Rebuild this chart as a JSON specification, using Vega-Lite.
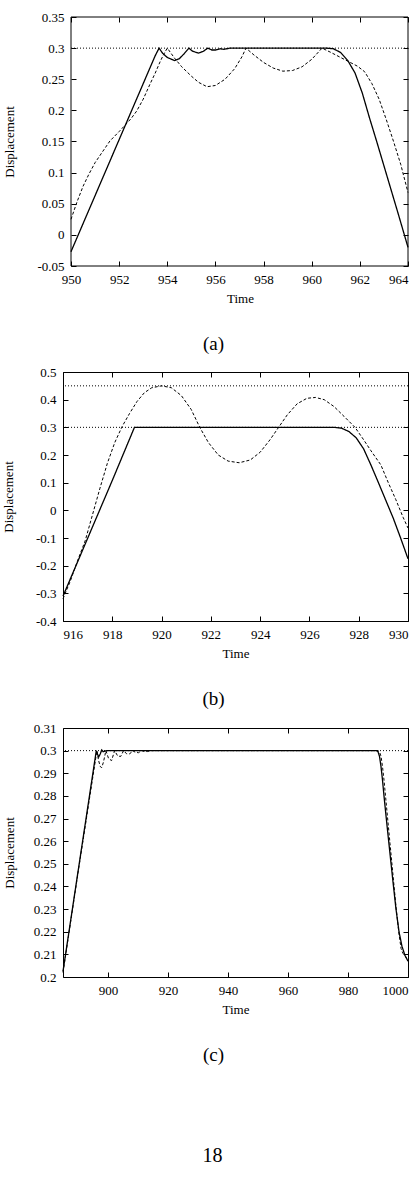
{
  "$schema": "https://vega.github.io/schema/vega-lite/v6.json",
  "padding": {"left": 1, "top": 11, "right": 0, "bottom": 0},
  "autosize": {"type": "pad"},
  "spacing": 11,
  "title": {"text": "18", "orient": "bottom", "anchor": "middle", "dx": 6, "offset": 80, "fontSize": 20, "fontWeight": "normal", "font": "Liberation Serif", "color": "black"},
  "config": {
    "view": {"stroke": "black", "strokeWidth": 1},
    "font": "Liberation Serif",
    "axis": {"grid": false, "domain": false, "tickSize": -5, "tickColor": "black", "tickWidth": 1, "labelPadding": 12, "labelFont": "Liberation Serif", "labelFontSize": 13, "labelColor": "black", "titleFont": "Liberation Serif", "titleFontSize": 13, "titleFontWeight": "normal", "titleColor": "black"},
    "axisX": {"titlePadding": 6},
    "title": {"fontWeight": "normal", "font": "Liberation Serif", "color": "black"}
  },
  "datasets": {
    "refA": [{"level": 0.3, "x0": 950, "x1": 964}],
    "frameAh": [{"x0": 950, "x1": 964, "y": -0.05}, {"x0": 950, "x1": 964, "y": 0.35}],
    "frameAv": [{"x": 950}, {"x": 964}],
    "refB": [{"level": 0.3}, {"level": 0.45}],
    "refC": [{"level": 0.3}],
    "a": [
      {"s": "solid", "t": 950, "d": -0.027}, {"s": "solid", "t": 950.5, "d": 0.018}, {"s": "solid", "t": 951, "d": 0.063}, {"s": "solid", "t": 951.5, "d": 0.108}, {"s": "solid", "t": 952, "d": 0.153}, {"s": "solid", "t": 952.5, "d": 0.198}, {"s": "solid", "t": 953, "d": 0.243}, {"s": "solid", "t": 953.5, "d": 0.288}, {"s": "solid", "t": 953.66, "d": 0.3}, {"s": "solid", "t": 953.8, "d": 0.292}, {"s": "solid", "t": 954, "d": 0.285}, {"s": "solid", "t": 954.3, "d": 0.28}, {"s": "solid", "t": 954.5, "d": 0.283}, {"s": "solid", "t": 954.7, "d": 0.291}, {"s": "solid", "t": 954.9, "d": 0.3}, {"s": "solid", "t": 955.05, "d": 0.295}, {"s": "solid", "t": 955.3, "d": 0.292}, {"s": "solid", "t": 955.5, "d": 0.295}, {"s": "solid", "t": 955.68, "d": 0.3}, {"s": "solid", "t": 955.85, "d": 0.297}, {"s": "solid", "t": 956, "d": 0.297}, {"s": "solid", "t": 956.2, "d": 0.299}, {"s": "solid", "t": 956.35, "d": 0.298}, {"s": "solid", "t": 956.6, "d": 0.3}, {"s": "solid", "t": 958, "d": 0.3}, {"s": "solid", "t": 960.6, "d": 0.3}, {"s": "solid", "t": 960.9, "d": 0.299}, {"s": "solid", "t": 961.2, "d": 0.293}, {"s": "solid", "t": 961.5, "d": 0.28}, {"s": "solid", "t": 961.8, "d": 0.26}, {"s": "solid", "t": 962.1, "d": 0.228}, {"s": "solid", "t": 962.4, "d": 0.188}, {"s": "solid", "t": 962.7, "d": 0.15}, {"s": "solid", "t": 963, "d": 0.111}, {"s": "solid", "t": 963.3, "d": 0.072}, {"s": "solid", "t": 963.6, "d": 0.033}, {"s": "solid", "t": 964, "d": -0.02},
      {"s": "dashed", "t": 950, "d": 0.025}, {"s": "dashed", "t": 950.25, "d": 0.053}, {"s": "dashed", "t": 950.5, "d": 0.078}, {"s": "dashed", "t": 950.75, "d": 0.098}, {"s": "dashed", "t": 951, "d": 0.116}, {"s": "dashed", "t": 951.3, "d": 0.133}, {"s": "dashed", "t": 951.62, "d": 0.151}, {"s": "dashed", "t": 952, "d": 0.166}, {"s": "dashed", "t": 952.24, "d": 0.176}, {"s": "dashed", "t": 952.5, "d": 0.187}, {"s": "dashed", "t": 952.73, "d": 0.199}, {"s": "dashed", "t": 953, "d": 0.218}, {"s": "dashed", "t": 953.28, "d": 0.242}, {"s": "dashed", "t": 953.5, "d": 0.26}, {"s": "dashed", "t": 953.7, "d": 0.278}, {"s": "dashed", "t": 953.85, "d": 0.29}, {"s": "dashed", "t": 954, "d": 0.3}, {"s": "dashed", "t": 954.3, "d": 0.284}, {"s": "dashed", "t": 954.6, "d": 0.27}, {"s": "dashed", "t": 955, "d": 0.255}, {"s": "dashed", "t": 955.3, "d": 0.245}, {"s": "dashed", "t": 955.65, "d": 0.238}, {"s": "dashed", "t": 956, "d": 0.24}, {"s": "dashed", "t": 956.4, "d": 0.25}, {"s": "dashed", "t": 956.8, "d": 0.267}, {"s": "dashed", "t": 957.1, "d": 0.286}, {"s": "dashed", "t": 957.27, "d": 0.3}, {"s": "dashed", "t": 957.6, "d": 0.289}, {"s": "dashed", "t": 958, "d": 0.277}, {"s": "dashed", "t": 958.4, "d": 0.268}, {"s": "dashed", "t": 958.8, "d": 0.263}, {"s": "dashed", "t": 959.2, "d": 0.264}, {"s": "dashed", "t": 959.6, "d": 0.27}, {"s": "dashed", "t": 960, "d": 0.282}, {"s": "dashed", "t": 960.43, "d": 0.3}, {"s": "dashed", "t": 960.8, "d": 0.293}, {"s": "dashed", "t": 961.2, "d": 0.285}, {"s": "dashed", "t": 961.5, "d": 0.279}, {"s": "dashed", "t": 961.9, "d": 0.271}, {"s": "dashed", "t": 962.2, "d": 0.262}, {"s": "dashed", "t": 962.5, "d": 0.243}, {"s": "dashed", "t": 962.8, "d": 0.218}, {"s": "dashed", "t": 963.1, "d": 0.185}, {"s": "dashed", "t": 963.4, "d": 0.15}, {"s": "dashed", "t": 963.7, "d": 0.113}, {"s": "dashed", "t": 964, "d": 0.068}
    ],
    "b": [
      {"s": "solid", "t": 916, "d": -0.31}, {"s": "solid", "t": 917, "d": -0.101}, {"s": "solid", "t": 918, "d": 0.108}, {"s": "solid", "t": 918.9, "d": 0.3}, {"s": "solid", "t": 919.5, "d": 0.3}, {"s": "solid", "t": 927, "d": 0.3}, {"s": "solid", "t": 927.3, "d": 0.297}, {"s": "solid", "t": 927.6, "d": 0.285}, {"s": "solid", "t": 927.9, "d": 0.262}, {"s": "solid", "t": 928.2, "d": 0.222}, {"s": "solid", "t": 928.5, "d": 0.163}, {"s": "solid", "t": 928.8, "d": 0.1}, {"s": "solid", "t": 929.1, "d": 0.036}, {"s": "solid", "t": 929.4, "d": -0.028}, {"s": "solid", "t": 929.7, "d": -0.1}, {"s": "solid", "t": 930, "d": -0.175},
      {"s": "dashed", "t": 916, "d": -0.32}, {"s": "dashed", "t": 916.3, "d": -0.255}, {"s": "dashed", "t": 916.6, "d": -0.18}, {"s": "dashed", "t": 916.9, "d": -0.11}, {"s": "dashed", "t": 917.2, "d": -0.015}, {"s": "dashed", "t": 917.5, "d": 0.08}, {"s": "dashed", "t": 917.8, "d": 0.17}, {"s": "dashed", "t": 918.1, "d": 0.245}, {"s": "dashed", "t": 918.4, "d": 0.303}, {"s": "dashed", "t": 918.7, "d": 0.35}, {"s": "dashed", "t": 919, "d": 0.393}, {"s": "dashed", "t": 919.3, "d": 0.425}, {"s": "dashed", "t": 919.6, "d": 0.443}, {"s": "dashed", "t": 920, "d": 0.45}, {"s": "dashed", "t": 920.4, "d": 0.443}, {"s": "dashed", "t": 920.8, "d": 0.415}, {"s": "dashed", "t": 921.2, "d": 0.365}, {"s": "dashed", "t": 921.55, "d": 0.3}, {"s": "dashed", "t": 921.9, "d": 0.245}, {"s": "dashed", "t": 922.3, "d": 0.2}, {"s": "dashed", "t": 922.7, "d": 0.178}, {"s": "dashed", "t": 923.15, "d": 0.172}, {"s": "dashed", "t": 923.6, "d": 0.182}, {"s": "dashed", "t": 924, "d": 0.21}, {"s": "dashed", "t": 924.4, "d": 0.255}, {"s": "dashed", "t": 924.75, "d": 0.3}, {"s": "dashed", "t": 925.1, "d": 0.345}, {"s": "dashed", "t": 925.5, "d": 0.385}, {"s": "dashed", "t": 925.9, "d": 0.405}, {"s": "dashed", "t": 926.25, "d": 0.408}, {"s": "dashed", "t": 926.6, "d": 0.4}, {"s": "dashed", "t": 927, "d": 0.375}, {"s": "dashed", "t": 927.4, "d": 0.34}, {"s": "dashed", "t": 927.85, "d": 0.3}, {"s": "dashed", "t": 928.2, "d": 0.255}, {"s": "dashed", "t": 928.5, "d": 0.215}, {"s": "dashed", "t": 928.9, "d": 0.164}, {"s": "dashed", "t": 929.2, "d": 0.1}, {"s": "dashed", "t": 929.5, "d": 0.04}, {"s": "dashed", "t": 929.8, "d": -0.025}, {"s": "dashed", "t": 930, "d": -0.064}
    ],
    "c": [
      {"s": "solid", "t": 885, "d": 0.2025}, {"s": "solid", "t": 890, "d": 0.2465}, {"s": "solid", "t": 896.1, "d": 0.3}, {"s": "solid", "t": 896.5, "d": 0.2985}, {"s": "solid", "t": 896.9, "d": 0.2972}, {"s": "solid", "t": 897.4, "d": 0.2985}, {"s": "solid", "t": 897.9, "d": 0.3003}, {"s": "solid", "t": 898.4, "d": 0.2995}, {"s": "solid", "t": 899, "d": 0.2998}, {"s": "solid", "t": 899.6, "d": 0.3}, {"s": "solid", "t": 940, "d": 0.3}, {"s": "solid", "t": 989.5, "d": 0.3}, {"s": "solid", "t": 990, "d": 0.2995}, {"s": "solid", "t": 990.5, "d": 0.2975}, {"s": "solid", "t": 991, "d": 0.293}, {"s": "solid", "t": 991.5, "d": 0.287}, {"s": "solid", "t": 992, "d": 0.28}, {"s": "solid", "t": 993, "d": 0.267}, {"s": "solid", "t": 994, "d": 0.2545}, {"s": "solid", "t": 995, "d": 0.242}, {"s": "solid", "t": 996, "d": 0.23}, {"s": "solid", "t": 997, "d": 0.22}, {"s": "solid", "t": 998, "d": 0.2135}, {"s": "solid", "t": 999, "d": 0.2095}, {"s": "solid", "t": 1000, "d": 0.207},
      {"s": "dashed", "t": 885, "d": 0.202}, {"s": "dashed", "t": 890, "d": 0.246}, {"s": "dashed", "t": 896.3, "d": 0.3}, {"s": "dashed", "t": 896.8, "d": 0.296}, {"s": "dashed", "t": 897.4, "d": 0.293}, {"s": "dashed", "t": 897.9, "d": 0.2925}, {"s": "dashed", "t": 898.5, "d": 0.295}, {"s": "dashed", "t": 899.3, "d": 0.3}, {"s": "dashed", "t": 900.2, "d": 0.2965}, {"s": "dashed", "t": 901.2, "d": 0.2956}, {"s": "dashed", "t": 902.2, "d": 0.3}, {"s": "dashed", "t": 903.2, "d": 0.2977}, {"s": "dashed", "t": 904.2, "d": 0.2974}, {"s": "dashed", "t": 905.2, "d": 0.3}, {"s": "dashed", "t": 906.2, "d": 0.2986}, {"s": "dashed", "t": 907.2, "d": 0.2985}, {"s": "dashed", "t": 908.2, "d": 0.3}, {"s": "dashed", "t": 909.2, "d": 0.2992}, {"s": "dashed", "t": 910.2, "d": 0.2991}, {"s": "dashed", "t": 911.2, "d": 0.3}, {"s": "dashed", "t": 912.2, "d": 0.2996}, {"s": "dashed", "t": 913.2, "d": 0.2996}, {"s": "dashed", "t": 914.2, "d": 0.3}, {"s": "dashed", "t": 950, "d": 0.3}, {"s": "dashed", "t": 990, "d": 0.3}, {"s": "dashed", "t": 990.5, "d": 0.2995}, {"s": "dashed", "t": 991, "d": 0.2975}, {"s": "dashed", "t": 991.5, "d": 0.293}, {"s": "dashed", "t": 992, "d": 0.287}, {"s": "dashed", "t": 993, "d": 0.273}, {"s": "dashed", "t": 994, "d": 0.259}, {"s": "dashed", "t": 995, "d": 0.245}, {"s": "dashed", "t": 996, "d": 0.231}, {"s": "dashed", "t": 997, "d": 0.219}, {"s": "dashed", "t": 997.7, "d": 0.2125}, {"s": "dashed", "t": 998.3, "d": 0.2105}, {"s": "dashed", "t": 999, "d": 0.2095}, {"s": "dashed", "t": 1000, "d": 0.207}
    ]
  },
  "vconcat": [
    {
      "width": 345, "height": 249,
      "view": {"stroke": null},
      "title": {"text": "(a)", "orient": "bottom", "anchor": "middle", "dx": -22, "offset": 30, "fontSize": 19},
      "resolve": {"axis": {"x": "independent", "y": "independent"}},
      "layer": [
        {"data": {"name": "frameAv"}, "mark": {"type": "rule", "color": "black", "strokeWidth": 1},
         "encoding": {"x": {"field": "x", "type": "quantitative", "scale": {"domain": [949.6676, 964], "nice": false, "zero": false}, "axis": null}}},
        {"data": {"name": "frameAh"}, "mark": {"type": "rule", "color": "black", "strokeWidth": 1},
         "encoding": {"x": {"field": "x0", "type": "quantitative", "scale": {"domain": [949.6676, 964], "nice": false, "zero": false}, "axis": null}, "x2": {"field": "x1"}, "y": {"field": "y", "type": "quantitative", "scale": {"domain": [-0.05, 0.35], "nice": false, "zero": false}, "axis": null}}},
        {"data": {"name": "refA"}, "mark": {"type": "rule", "strokeDash": [1, 2], "color": "black", "strokeWidth": 1},
         "encoding": {"x": {"field": "x0", "type": "quantitative", "scale": {"domain": [949.6676, 964], "nice": false, "zero": false}, "axis": null}, "x2": {"field": "x1"}, "y": {"field": "level", "type": "quantitative", "scale": {"domain": [-0.05, 0.35], "nice": false, "zero": false}, "axis": null}}},
        {"data": {"name": "a"}, "mark": {"type": "line", "color": "black"},
         "encoding": {
           "x": {"field": "t", "type": "quantitative", "scale": {"domain": [949.6676, 964], "nice": false, "zero": false}, "axis": {"orient": "bottom", "title": "Time", "titleX": 177, "values": [950, 952, 954, 956, 958, 960, 962, 964], "labelExpr": "'' + datum.value"}},
           "y": {"field": "d", "type": "quantitative", "scale": {"domain": [-0.05, 0.35], "nice": false, "zero": false}, "axis": {"orient": "left", "offset": -8, "titlePadding": 20, "title": "Displacement", "values": [-0.05, 0, 0.05, 0.1, 0.15, 0.2, 0.25, 0.3, 0.35], "labelExpr": "'' + datum.value"}},
           "strokeDash": {"field": "s", "type": "nominal", "scale": {"domain": ["solid", "dashed"], "range": [[1, 0], [3, 2]]}, "legend": null},
           "strokeWidth": {"field": "s", "type": "nominal", "scale": {"domain": ["solid", "dashed"], "range": [1.3, 1]}, "legend": null}
         }},
        {"data": {"name": "a"}, "mark": {"type": "line", "opacity": 0},
         "encoding": {
           "x": {"field": "t", "type": "quantitative", "scale": {"domain": [949.6676, 964], "nice": false, "zero": false}, "axis": {"orient": "top", "title": null, "labels": false, "values": [950, 952, 954, 956, 958, 960, 962, 964]}},
           "y": {"field": "d", "type": "quantitative", "scale": {"domain": [-0.05, 0.35], "nice": false, "zero": false}, "axis": {"orient": "right", "title": null, "labels": false, "values": [-0.05, 0, 0.05, 0.1, 0.15, 0.2, 0.25, 0.3, 0.35]}},
           "detail": {"field": "s", "type": "nominal"}
         }}
      ]
    },
    {
      "width": 345, "height": 249,
      "title": {"text": "(b)", "orient": "bottom", "anchor": "middle", "dx": -22, "offset": 30, "fontSize": 19},
      "resolve": {"axis": {"x": "independent", "y": "independent"}},
      "layer": [
        {"data": {"name": "refB"}, "mark": {"type": "rule", "strokeDash": [1, 2], "color": "black", "strokeWidth": 1},
         "encoding": {"y": {"field": "level", "type": "quantitative", "scale": {"domain": [-0.4, 0.5], "nice": false, "zero": false}, "axis": null}}},
        {"data": {"name": "b"}, "mark": {"type": "line", "color": "black"},
         "encoding": {
           "x": {"field": "t", "type": "quantitative", "scale": {"domain": [916, 930], "nice": false, "zero": false}, "axis": {"orient": "bottom", "title": "Time", "values": [916, 918, 920, 922, 924, 926, 928, 930], "labelExpr": "'' + datum.value"}},
           "y": {"field": "d", "type": "quantitative", "scale": {"domain": [-0.4, 0.5], "nice": false, "zero": false}, "axis": {"orient": "left", "titlePadding": 20, "title": "Displacement", "values": [-0.4, -0.3, -0.2, -0.1, 0, 0.1, 0.2, 0.3, 0.4, 0.5], "labelExpr": "'' + datum.value"}},
           "strokeDash": {"field": "s", "type": "nominal", "scale": {"domain": ["solid", "dashed"], "range": [[1, 0], [3, 2]]}, "legend": null},
           "strokeWidth": {"field": "s", "type": "nominal", "scale": {"domain": ["solid", "dashed"], "range": [1.3, 1]}, "legend": null}
         }},
        {"data": {"name": "b"}, "mark": {"type": "line", "opacity": 0},
         "encoding": {
           "x": {"field": "t", "type": "quantitative", "scale": {"domain": [916, 930], "nice": false, "zero": false}, "axis": {"orient": "top", "title": null, "labels": false, "values": [916, 918, 920, 922, 924, 926, 928, 930]}},
           "y": {"field": "d", "type": "quantitative", "scale": {"domain": [-0.4, 0.5], "nice": false, "zero": false}, "axis": {"orient": "right", "title": null, "labels": false, "values": [-0.4, -0.3, -0.2, -0.1, 0, 0.1, 0.2, 0.3, 0.4, 0.5]}},
           "detail": {"field": "s", "type": "nominal"}
         }}
      ]
    },
    {
      "width": 345, "height": 249,
      "title": {"text": "(c)", "orient": "bottom", "anchor": "middle", "dx": -22, "offset": 30, "fontSize": 19},
      "resolve": {"axis": {"x": "independent", "y": "independent"}},
      "layer": [
        {"data": {"name": "refC"}, "mark": {"type": "rule", "strokeDash": [1, 2], "color": "black", "strokeWidth": 1},
         "encoding": {"y": {"field": "level", "type": "quantitative", "scale": {"domain": [0.2, 0.31], "nice": false, "zero": false}, "axis": null}}},
        {"data": {"name": "c"}, "mark": {"type": "line", "color": "black"},
         "encoding": {
           "x": {"field": "t", "type": "quantitative", "scale": {"domain": [885, 1000], "nice": false, "zero": false}, "axis": {"orient": "bottom", "title": "Time", "values": [900, 920, 940, 960, 980, 1000], "labelExpr": "'' + datum.value"}},
           "y": {"field": "d", "type": "quantitative", "scale": {"domain": [0.2, 0.31], "nice": false, "zero": false}, "axis": {"orient": "left", "titlePadding": 17, "title": "Displacement", "values": [0.2, 0.21, 0.22, 0.23, 0.24, 0.25, 0.26, 0.27, 0.28, 0.29, 0.3, 0.31], "labelExpr": "'' + datum.value"}},
           "strokeDash": {"field": "s", "type": "nominal", "scale": {"domain": ["solid", "dashed"], "range": [[1, 0], [3, 2]]}, "legend": null},
           "strokeWidth": {"field": "s", "type": "nominal", "scale": {"domain": ["solid", "dashed"], "range": [1.3, 1]}, "legend": null}
         }},
        {"data": {"name": "c"}, "mark": {"type": "line", "opacity": 0},
         "encoding": {
           "x": {"field": "t", "type": "quantitative", "scale": {"domain": [885, 1000], "nice": false, "zero": false}, "axis": {"orient": "top", "title": null, "labels": false, "values": [900, 920, 940, 960, 980, 1000]}},
           "y": {"field": "d", "type": "quantitative", "scale": {"domain": [0.2, 0.31], "nice": false, "zero": false}, "axis": {"orient": "right", "title": null, "labels": false, "values": [0.2, 0.21, 0.22, 0.23, 0.24, 0.25, 0.26, 0.27, 0.28, 0.29, 0.3, 0.31]}},
           "detail": {"field": "s", "type": "nominal"}
         }}
      ]
    }
  ]
}
